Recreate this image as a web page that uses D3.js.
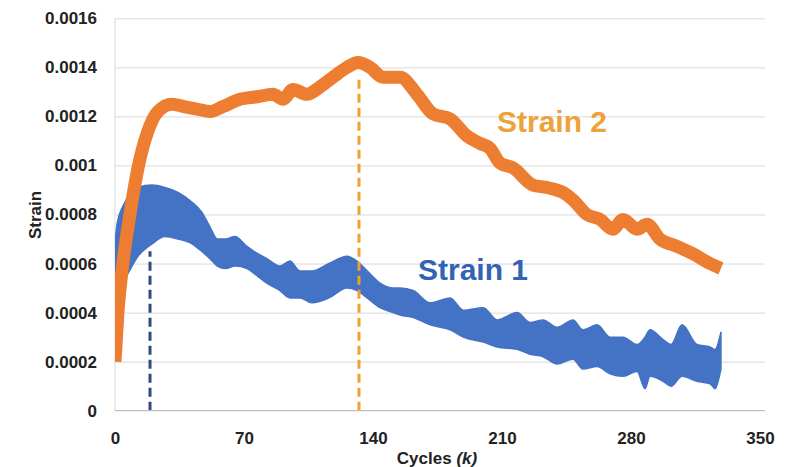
<!DOCTYPE html>
<html>
<head>
<meta charset="utf-8">
<script src="https://cdn.jsdelivr.net/npm/d3@7"></script>
<style>
  html, body { margin: 0; padding: 0; background: #ffffff; }
  svg { display: block; }
  text { font-family: "Liberation Sans", Arial, sans-serif; font-weight: bold; }
</style>
</head>
<body>
<svg id="chart" width="789" height="467"></svg>
<script>
// ---------- data ----------
const xTicks = [0, 70, 140, 210, 280, 350];
const xTickLabels = ["0", "70", "140", "210", "280", "350"];
const yTicks = [0, 0.0002, 0.0004, 0.0006, 0.0008, 0.001, 0.0012, 0.0014, 0.0016];
const yTickLabels = ["0", "0.0002", "0.0004", "0.0006", "0.0008", "0.001", "0.0012", "0.0014", "0.0016"];

// Strain 2 (orange) – centre of the dense band
const strain2Cycles = [0, 1.6, 4.3, 8.1, 12.5, 17.4, 23.3, 30.9, 37.4, 44.5, 51.6, 58.6,
  67.8, 77.1, 85.7, 91.2, 96.6, 104.2, 111.2, 118.3, 125.9, 131.9, 138.4, 145.4, 150.9, 154.7, 163.9, 172.6,
  181.8, 191.0, 198.1, 203.5, 208.9, 216.0, 226.8, 234.4, 243.1, 248.5, 256.1, 263.2, 270.2, 275.7, 283.3,
  288.7, 295.7, 305.0, 313.6, 322.9, 328.8];
const strain2Values = [0.00020, 0.00040, 0.00060, 0.00080, 0.00099, 0.00113, 0.00122, 0.00125, 0.00124, 0.00123,
  0.00122, 0.00124, 0.00127, 0.00128, 0.00129, 0.00127, 0.00131, 0.00129,
  0.00132, 0.00136, 0.00140, 0.00142, 0.00140, 0.00136, 0.00136, 0.00136, 0.00129, 0.00121, 0.00119, 0.00112,
  0.00109, 0.00107, 0.00101, 0.00099, 0.00092, 0.00091, 0.00089, 0.00086, 0.00080, 0.00078, 0.00074, 0.00078,
  0.00074, 0.00076, 0.00070, 0.00067, 0.00064, 0.00060, 0.00058];

// Strain 1 (blue) – upper and lower envelope of the dense band
const strain1Cycles = [0, 1.1, 5.4, 12.5, 20.1, 27.1, 34.2, 41.8, 47.0, 51.5, 55.5, 60.0, 65.1, 71.6, 75.4,
  82.4, 89.5, 94.9, 100.3, 106.9, 116.1, 125.9, 131.3, 136.8, 143.8, 150.9, 154.7, 161.8, 171.0, 181.8, 189.0,
  199.8, 207.4, 218.2, 225.2, 232.3, 239.9, 248.5, 253.9, 261.6, 268.6, 275.7, 283.3, 287.6, 290.3, 297.4,
  301.7, 307.7, 315.8, 322.9, 325.6, 328.8];
const strain1Upper = [0.00068, 0.00076, 0.00085, 0.00091, 0.00092, 0.00091, 0.00089, 0.00085, 0.00081, 0.00075,
  0.00070, 0.00070, 0.00071, 0.00067, 0.00065, 0.00062, 0.00059, 0.00061, 0.00057, 0.00057, 0.00060,
  0.00063, 0.00061, 0.00057, 0.00052, 0.00050, 0.00050, 0.00049, 0.00044, 0.00046, 0.00041, 0.00042, 0.00037,
  0.00040, 0.00036, 0.00037, 0.00034, 0.00037, 0.00033, 0.00035, 0.00030, 0.00030, 0.00027, 0.00030, 0.00033,
  0.00029, 0.00027, 0.00035, 0.00027, 0.00026, 0.00025, 0.00032];
const strain1Lower = [0.00040, 0.00050, 0.00054, 0.00063, 0.00068, 0.00071, 0.00070, 0.00068, 0.00065, 0.00062,
  0.00059, 0.00058, 0.00059, 0.00058, 0.00056, 0.00052, 0.00049, 0.00046, 0.00046, 0.00044, 0.00046,
  0.00050, 0.00049, 0.00046, 0.00042, 0.00040, 0.00039, 0.00038, 0.00035, 0.00033, 0.00030, 0.00028, 0.00026,
  0.00025, 0.00023, 0.00022, 0.00019, 0.00021, 0.00017, 0.00018, 0.00015, 0.00014, 0.00016, 0.00009, 0.00014,
  0.00012, 0.00010, 0.00014, 0.00012, 0.00011, 0.00009, 0.00017];

// vertical dashed markers (cycle of peak, top of the marker)
const markerCycles = [19, 132.4];
const markerTops = [0.00065, 0.00135];
const markerColors = ["#2D4B7C", "#F0A030"];

// ---------- layout ----------
const svg = d3.select("#chart");
const padL = 115, padR = 760, gridR = 765, padT = 18.3, padB = 410.7;

const x = d3.scaleLinear().domain([0, 350]).range([padL, padR]);
const y = d3.scaleLinear().domain([0, 0.0016]).range([padB, padT]);

// clip for data
svg.append("defs").append("clipPath").attr("id", "plotclip")
  .append("rect").attr("x", padL).attr("y", 0).attr("width", gridR - padL).attr("height", padB);

// gridlines
const grid = svg.append("g").attr("transform", `translate(${padL},0)`)
  .call(d3.axisLeft(y).tickValues(yTicks.slice(1)).tickSize(-(gridR - padL)).tickFormat(""));
grid.select(".domain").remove();
grid.selectAll("line").attr("stroke", "#d9d9d9").attr("stroke-width", 1);

// left axis line (light)
svg.append("line").attr("x1", padL).attr("x2", padL).attr("y1", padT).attr("y2", padB)
  .attr("stroke", "#d9d9d9").attr("stroke-width", 1);

// data
const plot = svg.append("g").attr("clip-path", "url(#plotclip)");

const s1 = strain1Cycles.map((c, i) => ({ c, hi: strain1Upper[i], lo: strain1Lower[i] }));
plot.append("path").datum(s1)
  .attr("d", d3.area().x(d => x(d.c)).y0(d => y(d.lo)).y1(d => y(d.hi)).curve(d3.curveMonotoneX))
  .attr("fill", "#4472C4").attr("stroke", "#4472C4").attr("stroke-width", 1.5).attr("stroke-linejoin", "round");

// markers
markerCycles.forEach((c, i) => {
  plot.append("line")
    .attr("x1", x(c)).attr("x2", x(c)).attr("y1", y(0)).attr("y2", y(markerTops[i]))
    .attr("stroke", markerColors[i]).attr("stroke-width", 3).attr("stroke-dasharray", "9,5");
});

const s2 = strain2Cycles.map((c, i) => ({ c, v: strain2Values[i] }));
plot.append("path").datum(s2)
  .attr("d", d3.line().x(d => x(d.c)).y(d => y(d.v)).curve(d3.curveMonotoneX))
  .attr("fill", "none").attr("stroke", "#ED7D31").attr("stroke-width", 13)
  .attr("stroke-linejoin", "round").attr("stroke-linecap", "butt");

// bottom axis line
svg.append("line").attr("x1", padL).attr("x2", gridR).attr("y1", padB).attr("y2", padB)
  .attr("stroke", "#bfbfbf").attr("stroke-width", 1.2);

// y axis labels
const yAxis = svg.append("g").attr("transform", `translate(${padL},0)`)
  .call(d3.axisLeft(y).tickValues(yTicks).tickSize(0).tickPadding(18).tickFormat((d, i) => yTickLabels[i]));
yAxis.select(".domain").remove();
yAxis.selectAll("text").attr("font-size", 17).attr("font-weight", "bold").attr("fill", "#222")
  .attr("font-family", "'Liberation Sans', Arial, sans-serif");

// x axis labels
const xAxis = svg.append("g").attr("transform", `translate(0,${padB})`)
  .call(d3.axisBottom(x).tickValues(xTicks).tickSize(0).tickPadding(21).tickFormat((d, i) => xTickLabels[i]));
xAxis.select(".domain").remove();
xAxis.selectAll("text").attr("font-size", 17).attr("font-weight", "bold").attr("fill", "#222")
  .attr("font-family", "'Liberation Sans', Arial, sans-serif");

// axis titles
const xt = svg.append("text").attr("x", 437).attr("y", 464).attr("text-anchor", "middle")
  .attr("font-size", 17).attr("fill", "#222");
xt.append("tspan").text("Cycles ");
xt.append("tspan").attr("font-style", "italic").text("(k)");

svg.append("text").attr("transform", "translate(41,215) rotate(-90)").attr("text-anchor", "middle")
  .attr("font-size", 17).attr("fill", "#222").text("Strain");

// series annotations
svg.append("text").attr("x", 497).attr("y", 132).attr("font-size", 30).attr("fill", "#EDA23A").text("Strain 2");
svg.append("text").attr("x", 418).attr("y", 280).attr("font-size", 30).attr("fill", "#3462B4").text("Strain 1");
</script>
</body>
</html>
